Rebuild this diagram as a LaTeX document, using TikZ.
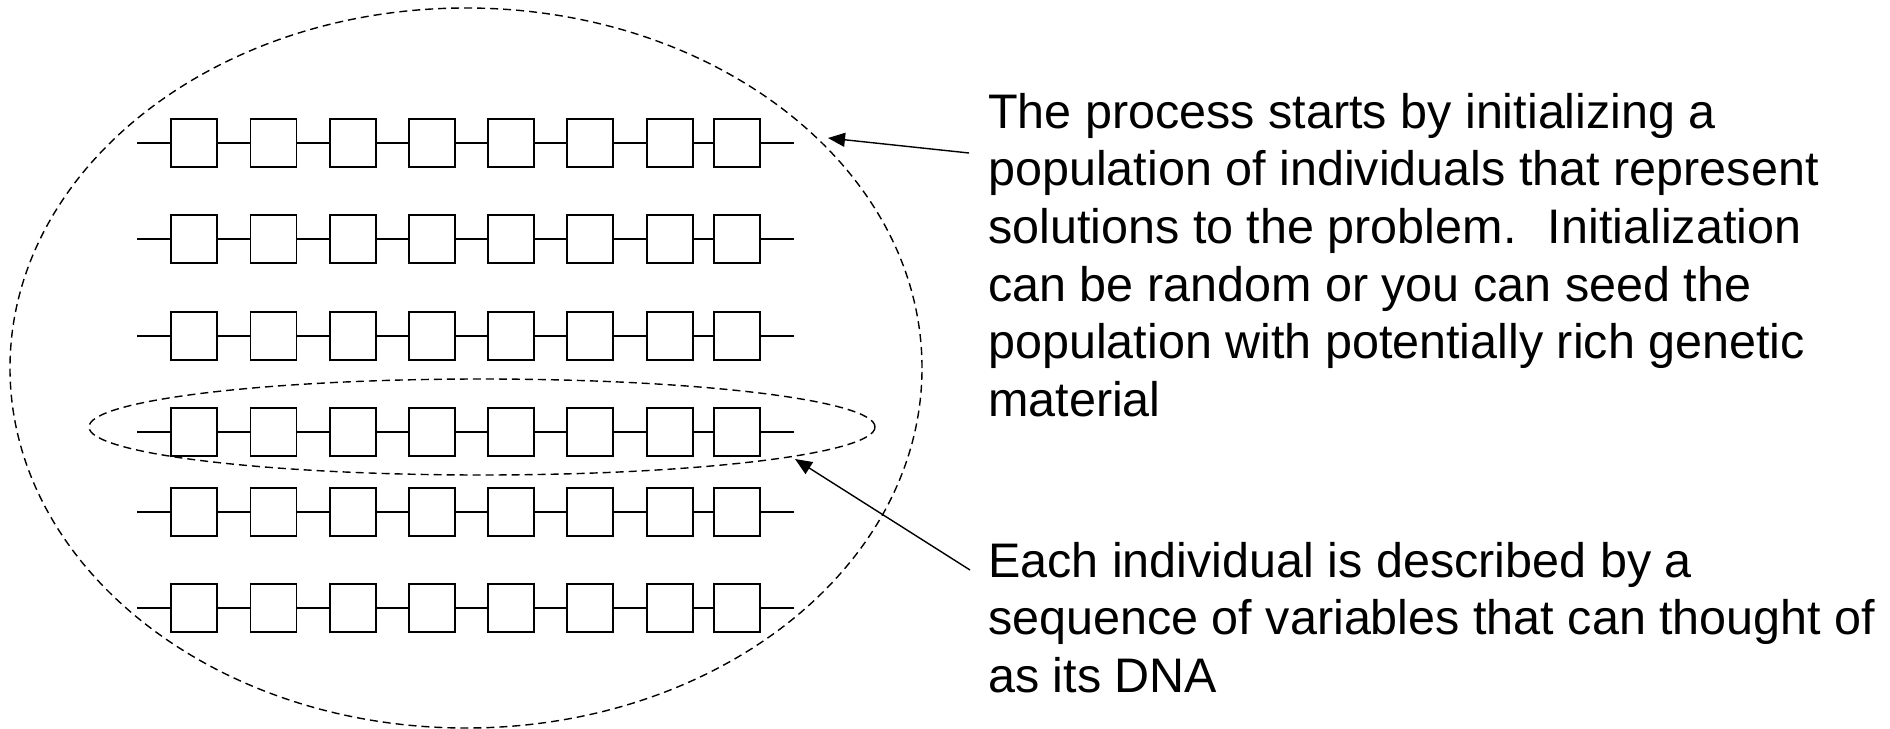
\documentclass[tikz,border=0pt]{standalone}
\usepackage{fontspec}
\setmainfont{Liberation Sans}
\usetikzlibrary{arrows.meta,shapes.geometric}
\begin{document}
\begin{tikzpicture}[x=1bp,y=-1bp,
  gene/.style={draw, line width=1.9bp, minimum width=46bp, minimum height=48bp, inner sep=0pt, outer sep=0pt},
  link/.style={line width=1.9bp},
  group/.style={draw, dash pattern=on 8bp off 5bp, line width=1.4bp, ellipse, inner sep=0pt},
  pointer/.style={line width=1.4bp, -{Triangle[length=17bp,width=14bp]}},
  note/.style={anchor=base west, inner sep=0pt, font=\fontsize{48.5bp}{57.5bp}\selectfont}
]
\useasboundingbox (0,0) rectangle (1890,729);
\foreach \r/\yy in {1/143.3,2/239.3,3/335.7,4/431.7,5/511.7,6/608.3}{
  \foreach \c/\xx in {1/171,2/250.5,3/330,4/409,5/488,6/567,7/647,8/714}{
    \node[gene, anchor=west] (b\r-\c) at (\xx,\yy) {};
  }
  \coordinate (s\r) at (137,\yy);
  \coordinate (e\r) at (794,\yy);
  \draw[link] (s\r) -- (b\r-1.west);
  \foreach \c [evaluate=\c as \n using int(\c+1)] in {1,...,7} {
    \draw[link] (b\r-\c.east) -- (b\r-\n.west);
  }
  \draw[link] (b\r-8.east) -- (e\r);
}
\node[group, minimum width=912bp, minimum height=720bp] (pop) at (466,368) {};
\node[group, minimum width=786bp, minimum height=96bp] (ind) at (482,427) {};
\node[note] (init) at (988,128.5) {\vtop{\hbox{The process starts by initializing a}\hbox{population of individuals that represent}\hbox{solutions to the problem.~ Initialization}\hbox{can be random or you can seed the}\hbox{population with potentially rich genetic}\hbox{material}}};
\node[note] (dna) at (988,577) {\vtop{\hbox{Each individual is described by a}\hbox{sequence of variables that can thought of}\hbox{as its DNA}}};
\coordinate (tail1) at (969,153);
\coordinate (tip1) at (828,138);
\draw[pointer] (tail1) -- (tip1);
\coordinate (tail2) at (970,570);
\coordinate (tip2) at (795,459);
\draw[pointer] (tail2) -- (tip2);
\end{tikzpicture}
\end{document}
